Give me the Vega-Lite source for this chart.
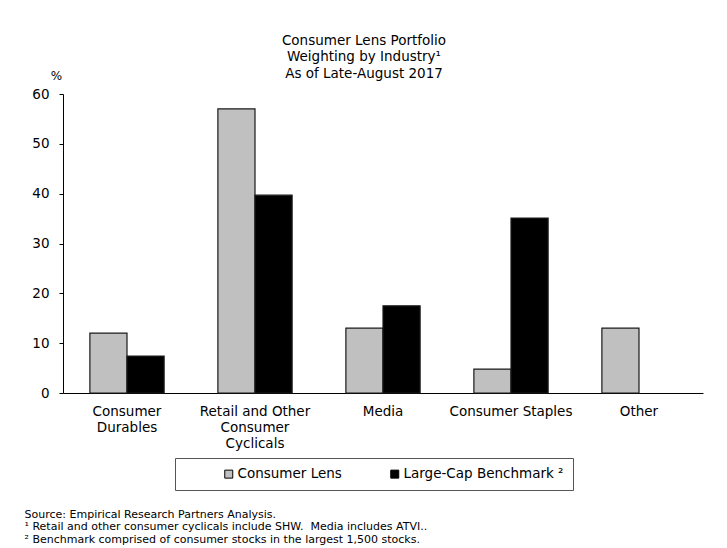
{
  "$schema": "https://vega.github.io/schema/vega-lite/v6.json",
  "width": 640,
  "height": 299,
  "autosize": {"type": "none"},
  "padding": {"left": 63, "top": 94, "right": 24, "bottom": 155},
  "background": "white",
  "config": {
    "font": "DejaVu Sans",
    "view": {"stroke": null},
    "axis": {"grid": false, "domainColor": "#000", "tickColor": "#000", "labelColor": "#000", "titleColor": "#000"}
  },
  "title": {
    "text": ["Consumer Lens Portfolio", "Weighting by Industry\u00b9", "As of Late-August 2017"],
    "fontSize": 13.5,
    "fontWeight": "normal",
    "lineHeight": 16.5,
    "color": "#000",
    "anchor": "middle",
    "frame": "group",
    "dx": -19,
    "offset": -11
  },
  "data": {
    "values": [
      {"industry": "Consumer Durables", "series": "Consumer Lens", "weight": 12.0},
      {"industry": "Consumer Durables", "series": "Large-Cap Benchmark \u00b2", "weight": 7.4},
      {"industry": "Retail and Other Consumer Cyclicals", "series": "Consumer Lens", "weight": 57.0},
      {"industry": "Retail and Other Consumer Cyclicals", "series": "Large-Cap Benchmark \u00b2", "weight": 39.7},
      {"industry": "Media", "series": "Consumer Lens", "weight": 13.0},
      {"industry": "Media", "series": "Large-Cap Benchmark \u00b2", "weight": 17.5},
      {"industry": "Consumer Staples", "series": "Consumer Lens", "weight": 4.8},
      {"industry": "Consumer Staples", "series": "Large-Cap Benchmark \u00b2", "weight": 35.1},
      {"industry": "Other", "series": "Consumer Lens", "weight": 13.0}
    ]
  },
  "mark": {"type": "bar", "stroke": "#1a1a1a", "strokeWidth": 1.2},
  "encoding": {
    "x": {
      "field": "industry",
      "type": "nominal",
      "sort": ["Consumer Durables", "Retail and Other Consumer Cyclicals", "Media", "Consumer Staples", "Other"],
      "scale": {"paddingInner": 0.42, "paddingOuter": 0.21},
      "axis": {
        "labelAngle": 0,
        "ticks": false,
        "labelFontSize": 13.5,
        "labelLineHeight": 16,
        "labelPadding": 11,
        "labelBaseline": "top",
        "labelExpr": "datum.value == 'Consumer Durables' ? ['Consumer', 'Durables'] : datum.value == 'Retail and Other Consumer Cyclicals' ? ['Retail and Other', 'Consumer', 'Cyclicals'] : datum.value",
        "title": ["Source: Empirical Research Partners Analysis.", "\u00b9 Retail and other consumer cyclicals include SHW.\u00a0 Media includes ATVI..", "\u00b2 Benchmark comprised of consumer stocks in the largest 1,500 stocks."],
        "titleFontSize": 11,
        "titleFontWeight": "normal",
        "titleLineHeight": 12.5,
        "titleAlign": "left",
        "titleBaseline": "top",
        "titleAnchor": "start",
        "titleX": -39,
        "titleY": 115
      }
    },
    "xOffset": {
      "field": "series",
      "type": "nominal",
      "sort": ["Consumer Lens", "Large-Cap Benchmark \u00b2"]
    },
    "y": {
      "field": "weight",
      "type": "quantitative",
      "scale": {"domain": [0, 60], "nice": false},
      "axis": {
        "values": [0, 10, 20, 30, 40, 50, 60],
        "tickSize": 4,
        "labelFontSize": 13.5,
        "labelPadding": 10,
        "title": "%",
        "titleAngle": 0,
        "titleFontSize": 12,
        "titleFontWeight": "normal",
        "titleAlign": "center",
        "titleBaseline": "middle",
        "titleX": -7,
        "titleY": -19
      }
    },
    "color": {
      "field": "series",
      "type": "nominal",
      "scale": {"domain": ["Consumer Lens", "Large-Cap Benchmark \u00b2"], "range": ["#c0c0c0", "#000000"]},
      "legend": {
        "orient": "none",
        "legendX": 112,
        "legendY": 364,
        "direction": "horizontal",
        "title": "\u00a0",
        "titleOrient": "left",
        "titlePadding": 38,
        "titleFontSize": 13.5,
        "symbolType": "square",
        "symbolSize": 64,
        "symbolStrokeColor": "#000",
        "symbolStrokeWidth": 1,
        "labelFontSize": 13.5,
        "labelColor": "#000",
        "labelOffset": 2,
        "columnPadding": 46,
        "padding": 9,
        "strokeColor": "#555",
        "labelLimit": 300
      }
    }
  }
}
